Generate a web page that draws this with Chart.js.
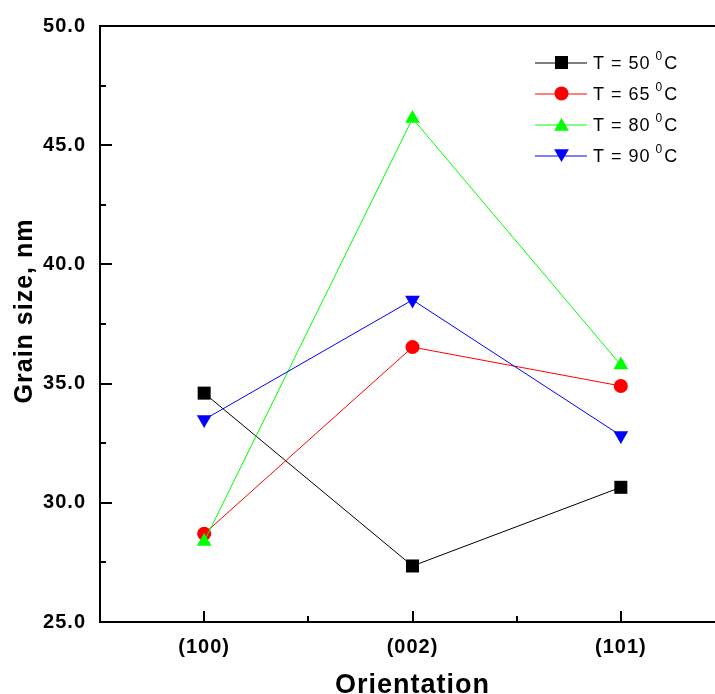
<!DOCTYPE html>
<html>
<head>
<meta charset="utf-8">
<script src="https://cdn.jsdelivr.net/npm/chart.js@4/dist/chart.umd.min.js"></script>
<style>
html,body{margin:0;padding:0;background:#fff;overflow:hidden;}
#wrap{width:740px;height:704px;}
</style>
</head>
<body>
<div id="wrap"><canvas id="c" width="740" height="704"></canvas></div>
<script>
// ---- data ----
const categories = ['(100)', '(002)', '(101)'];
const seriesNames = ['T = 50', 'T = 65', 'T = 80', 'T = 90'];
const t50 = [34.6, 27.35, 30.65];
const t65 = [28.7, 36.53, 34.9];
const t80 = [28.38, 46.12, 35.78];
const t90 = [33.49, 38.51, 32.82];
const yTicks = [25, 30, 35, 40, 45, 50];
const xTitle = 'Orientation';
const yTitle = 'Grain size, nm';

const colors = ['#000000', '#ff0000', '#00ff00', '#0000ff'];
const styles = ['rect', 'circle', 'triangle', 'triangle'];
const rotations = [0, 0, 0, 180];
const radii = [9.2, 7, 8.5, 8.5];
const allValues = [t50, t65, t80, t90];

const datasets = allValues.map((vals, k) => ({
  label: seriesNames[k],
  data: vals.map((v, i) => ({x: i + 1, y: v})),
  borderColor: colors[k],
  backgroundColor: colors[k],
  borderWidth: 1,
  pointStyle: styles[k],
  pointRotation: rotations[k],
  pointRadius: radii[k],
  pointBorderWidth: 0,
  pointHoverRadius: radii[k],
  tension: 0,
  order: 3 - k
}));

const FONT = '"Liberation Sans", Arial, sans-serif';

const spacingPlugin = {
  id: 'spacing',
  beforeDraw(chart) { chart.ctx.letterSpacing = '1px'; }
};

function drawMarker(ctx, style, rot, r, x, y, color) {
  ctx.save();
  ctx.fillStyle = color;
  ctx.beginPath();
  if (style === 'rect') {
    const s = Math.SQRT1_2 * r;
    ctx.rect(x - s, y - s, 2 * s, 2 * s);
  } else if (style === 'circle') {
    ctx.arc(x, y, r, 0, Math.PI * 2);
  } else {
    const a0 = (rot ? Math.PI / 2 : -Math.PI / 2);
    for (let i = 0; i < 3; i++) {
      const a = a0 + i * 2 * Math.PI / 3;
      const px = x + r * Math.cos(a), py = y + r * Math.sin(a);
      if (i === 0) ctx.moveTo(px, py); else ctx.lineTo(px, py);
    }
    ctx.closePath();
  }
  ctx.fill();
  ctx.restore();
}

const framePlugin = {
  id: 'frame',
  afterDraw(chart) {
    const ctx = chart.ctx;
    const a = chart.chartArea;
    const xs = chart.scales.x, ys = chart.scales.y;
    ctx.save();
    ctx.letterSpacing = '0px';
    ctx.strokeStyle = '#000';
    ctx.lineWidth = 2;
    // box
    ctx.strokeRect(a.left, a.top, a.right - a.left, a.bottom - a.top);
    // y ticks
    ctx.beginPath();
    for (let v = 25; v <= 50; v += 2.5) {
      const py = Math.round(ys.getPixelForValue(v));
      const len = (v % 5 === 0) ? 12 : 6;
      ctx.moveTo(a.left, py); ctx.lineTo(a.left + len, py);
    }
    // x ticks
    for (let v = 1; v <= 3.5; v += 0.5) {
      const px = Math.round(xs.getPixelForValue(v));
      const len = (v % 1 === 0) ? 11 : 6;
      ctx.moveTo(px, a.bottom); ctx.lineTo(px, a.bottom - len);
    }
    ctx.stroke();

    // y axis title
    ctx.save();
    ctx.letterSpacing = '1px';
    ctx.fillStyle = '#000';
    ctx.font = 'bold 25px ' + FONT;
    ctx.translate(25, 311);
    ctx.rotate(-Math.PI / 2);
    ctx.textAlign = 'center';
    ctx.textBaseline = 'middle';
    ctx.fillText(yTitle, 0, 0);
    ctx.restore();

    // legend
    const rowY0 = 62.5, rowDy = 31;
    ctx.letterSpacing = '1px';
    for (let k = 0; k < 4; k++) {
      const cy = rowY0 + k * rowDy;
      ctx.strokeStyle = colors[k];
      ctx.lineWidth = 1;
      ctx.beginPath();
      ctx.moveTo(535, cy + 0.5); ctx.lineTo(587, cy + 0.5);
      ctx.stroke();
      drawMarker(ctx, styles[k], rotations[k], radii[k], 561.5, cy + (styles[k]==='triangle' ? (rotations[k] ? -2 : 2) : 0), colors[k]);
      ctx.fillStyle = '#000';
      ctx.textBaseline = 'alphabetic';
      ctx.textAlign = 'left';
      ctx.font = '18px ' + FONT;
      const base = cy + 6.5;
      const txt = seriesNames[k];
      ctx.fillText(txt, 593, base);
      const w = ctx.measureText(txt).width;
      ctx.font = '12px ' + FONT;
      const sx = 593 + w + 5;
      ctx.fillText('0', sx, cy - 3);
      const sw = ctx.measureText('0').width;
      ctx.font = '18px ' + FONT;
      ctx.fillText('C', sx + sw + 1, base);
    }
    ctx.restore();
  }
};

new Chart(document.getElementById('c'), {
  type: 'line',
  data: { datasets },
  options: {
    responsive: false,
    animation: false,
    devicePixelRatio: 1,
    layout: { padding: { top: 22, right: 15, left: 0, bottom: 0 } },
    plugins: { legend: { display: false }, tooltip: { enabled: false } },
    scales: {
      x: {
        type: 'linear',
        min: 0.5, max: 3.5,
        grid: { display: false, drawTicks: false, tickLength: 0 },
        border: { display: false },
        afterBuildTicks: (s) => { s.ticks = categories.map((c, i) => ({ value: i + 1 })); },
        afterFit: (s) => { s.height = 82; },
        ticks: {
          color: '#000',
          padding: 13,
          font: { family: FONT, size: 20, weight: 'bold' },
          callback: (v) => categories[Math.round(v) - 1] || ''
        },
        title: {
          display: true,
          text: xTitle,
          color: '#000',
          font: { family: FONT, size: 27, weight: 'bold' },
          padding: { top: 0, bottom: 2 }
        }
      },
      y: {
        type: 'linear',
        min: 25, max: 50,
        grid: { display: false, drawTicks: false, tickLength: 0 },
        border: { display: false },
        afterBuildTicks: (s) => { s.ticks = yTicks.map(v => ({ value: v })); },
        afterFit: (s) => { s.width = 100; },
        ticks: {
          color: '#000',
          padding: 14,
          font: { family: FONT, size: 20, weight: 'bold' },
          callback: (v) => Number(v).toFixed(1)
        },
        title: { display: false, text: yTitle }
      }
    }
  },
  plugins: [spacingPlugin, framePlugin]
});
</script>
</body>
</html>
